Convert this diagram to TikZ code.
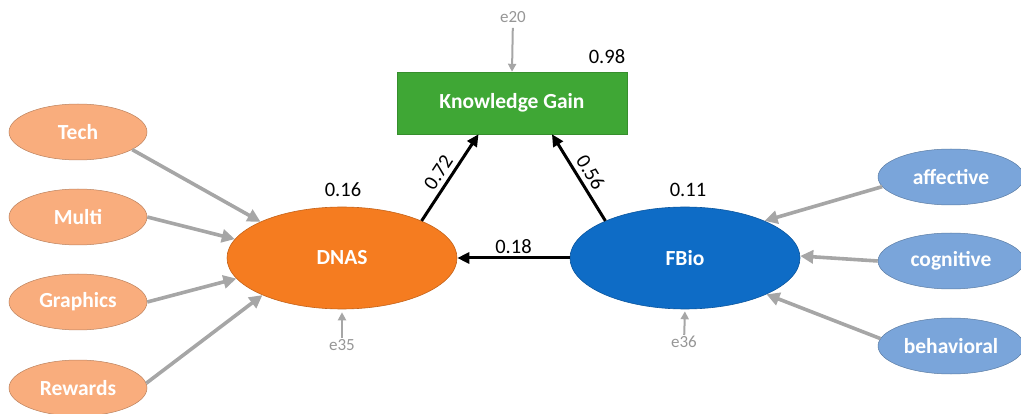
\documentclass[tikz,border=0pt]{standalone}
\usepackage{fontspec}
\setmainfont{Carlito}
\usetikzlibrary{arrows.meta,shapes.geometric}

\definecolor{kggreen}{RGB}{63,167,53}
\definecolor{dnasorange}{RGB}{245,124,32}
\definecolor{fbioblue}{RGB}{14,108,198}
\definecolor{lightorange}{RGB}{249,173,125}
\definecolor{lightblue}{RGB}{122,165,218}
\definecolor{arrowgray}{RGB}{166,166,166}
\definecolor{errgray}{RGB}{150,150,150}

\tikzset{
  lbl/.style={font=\fontsize{21.5}{25}\selectfont\bfseries, text=white},
  latent/.style={ellipse, lbl, minimum width=230pt, minimum height=102pt, draw=#1!80!black, line width=0.6pt, fill=#1},
  indicator/.style={ellipse, lbl, minimum width=138pt, minimum height=56pt, draw=#1!75!black, line width=0.5pt, fill=#1},
  coef/.style={font=\fontsize{20.5}{24}\selectfont, text=black},
  errlbl/.style={font=\fontsize{17}{20}\selectfont, text=errgray, inner sep=1pt},
  grayarrow/.style={draw=arrowgray, line width=3.6pt, -{Triangle[length=13pt, width=13pt]}},
  patharrow/.style={draw=black, line width=3pt, -{Triangle[length=12pt, width=11pt]}},
  errarrow/.style={draw=arrowgray, line width=2pt, -{Triangle[length=8pt, width=8pt]}}
}

\begin{document}
\begin{tikzpicture}[x=1pt, y=-1pt]
  \useasboundingbox (0,0) rectangle (1021,414);

  % outcome
  \node[draw=kggreen!85!black, fill=kggreen, minimum width=230pt, minimum height=62pt, lbl]
    (kg) at (512,103) {Knowledge Gain};

  % latent constructs
  \node[latent=dnasorange] (dnas) at (342,258) {DNAS};
  \node[latent=fbioblue] (fbio) at (685,258) {FBio};

  % DNAS indicators
  \node[indicator=lightorange] (tech) at (78,132) {Tech};
  \node[indicator=lightorange] (multi) at (78,217) {Multi};
  \node[indicator=lightorange] (graphics) at (78,302) {Graphics};
  \node[indicator=lightorange] (rewards) at (78,388) {Rewards};

  % FBio indicators
  \node[indicator=lightblue, minimum width=146pt] (affective) at (951,177) {affective};
  \node[indicator=lightblue, minimum width=146pt] (cognitive) at (951,261) {cognitive};
  \node[indicator=lightblue, minimum width=146pt] (behavioral) at (951,346) {behavioral};

  % error terms
  \node[errlbl] (e20) at (513,17) {e20};
  \node[errlbl] (e35) at (342,345) {e35};
  \node[errlbl] (e36) at (684,342) {e36};

  % indicator arrows
  \draw[grayarrow] (tech.-18) -- (dnas.156);
  \draw[grayarrow] (multi.0) -- (dnas.170);
  \draw[grayarrow] (graphics.0) -- (dnas.191);
  \draw[grayarrow] (rewards.4) -- (dnas.205);
  \draw[grayarrow] (affective.188) -- (fbio.25);
  \draw[grayarrow] (cognitive.180) -- (fbio.1);
  \draw[grayarrow] (behavioral.174) -- (fbio.-24);

  % structural paths
  \draw[patharrow] (dnas.25) -- node[coef, sloped, above=1pt, pos=0.48] {0.72} (kg.-137);
  \draw[patharrow] (fbio.155) -- node[coef, sloped, above=1pt, pos=0.48] {0.56} (kg.-38.5);
  \draw[patharrow] (fbio.180) -- node[coef, above=0pt] {0.18} (dnas.0);

  % error arrows
  \draw[errarrow, shorten <=4pt] (e20) -- (kg.north);
  \draw[errarrow, shorten >=3pt] (e35) -- (dnas.south);
  \draw[errarrow, shorten >=2pt] (e36) -- (fbio.south);

  % squared multiple correlations
  \node[coef] (r2kg) at (607,57) {0.98};
  \node[coef] (r2dnas) at (343,190) {0.16};
  \node[coef] (r2fbio) at (688,190) {0.11};
\end{tikzpicture}
\end{document}
